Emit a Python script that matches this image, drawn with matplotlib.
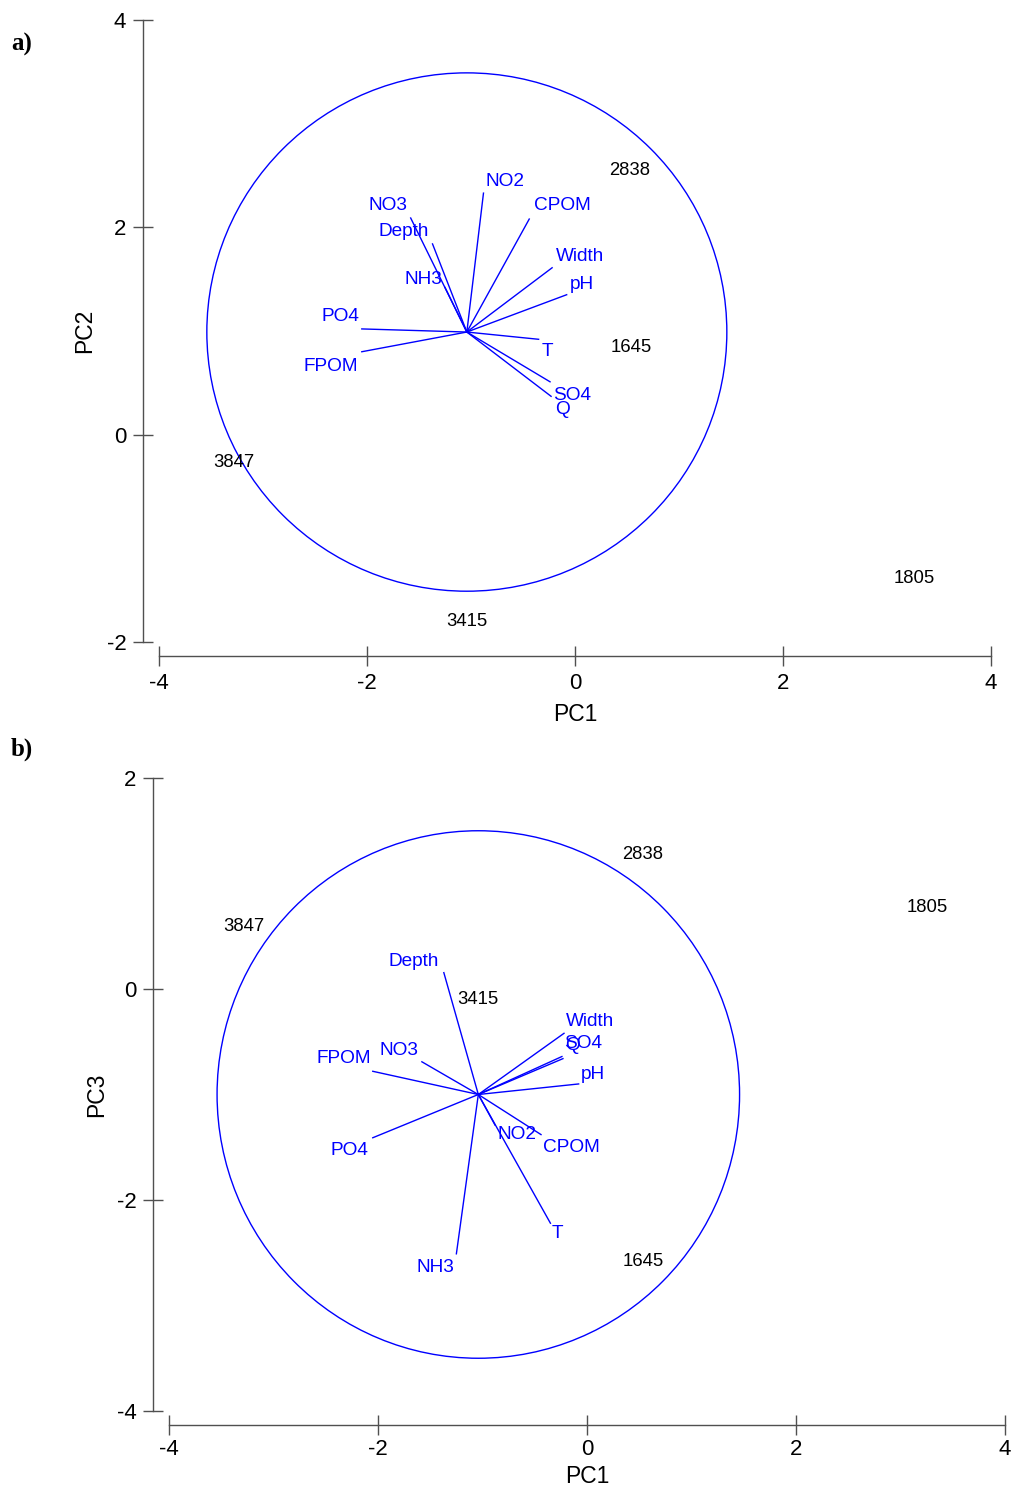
import matplotlib
matplotlib.use('agg')
import matplotlib.pyplot as plt
from matplotlib.patches import Circle
from matplotlib.transforms import offset_copy

plt.rcParams['font.family'] = ['Liberation Sans', 'DejaVu Sans']
plt.rcParams['axes.unicode_minus'] = False

# variables (vectors), endpoints in PC space
variables = ['NO2', 'CPOM', 'NO3', 'Depth', 'NH3', 'Width', 'pH', 'T', 'SO4', 'Q', 'PO4', 'FPOM']
vec_pc1 = [-0.88, -0.44, -1.58, -1.37, -1.25, -0.22, -0.08, -0.35, -0.24, -0.23, -2.05, -2.05]
vec_pc2 = [2.33, 2.08, 2.09, 1.84, 1.42, 1.61, 1.35, 0.92, 0.51, 0.37, 1.02, 0.80]
vec_pc3 = [-1.29, -1.38, -0.69, 0.155, -2.51, -0.42, -0.90, -2.22, -0.64, -0.66, -1.41, -0.78]

# label positions for the vectors
lab_a_x = [-0.67, -0.125, -1.80, -1.65, -1.46, 0.05, 0.07, -0.27, -0.03, -0.125, -2.26, -2.35]
lab_a_y = [2.46, 2.23, 2.23, 1.98, 1.52, 1.74, 1.47, 0.82, 0.40, 0.26, 1.16, 0.68]
lab_b_x = [-0.67, -0.15, -1.80, -1.66, -1.45, 0.03, 0.06, -0.28, -0.04, -0.14, -2.27, -2.33]
lab_b_y = [-1.36, -1.48, -0.56, 0.28, -2.62, -0.29, -0.79, -2.30, -0.50, -0.52, -1.51, -0.64]

# samples
samples = ['2838', '1645', '3847', '3415', '1805']
samp_pc1 = [0.53, 0.54, -3.28, -1.04, 3.26]
samp_pc2 = [2.57, 0.86, -0.25, -1.78, -1.37]
samp_pc3 = [1.29, -2.56, 0.61, -0.08, 0.79]

# circle of correlations
circ_pc1 = -1.04
circ_pc2 = 0.99
circ_pc3 = -1.00
circ_r = 2.5

W, H = 1013, 1490
fig = plt.figure(figsize=(W / 100, H / 100), dpi=100)

blue = '#0000ff'
spine_col = '#505050'


def make_panel(rect, vy, lx, ly, sy, cy, ylim, yticks, ylabel, ylab_x, tpad, lpad):
    ax = fig.add_axes(rect)
    ax.set_xlim(-4, 4)
    ax.set_ylim(*ylim)
    # nudge text down a bit so the glyphs sit centred on their points
    tr = offset_copy(ax.transData, fig=fig, y=-2, units='dots')
    ax.add_patch(Circle((circ_pc1, cy), circ_r, fill=False, ec=blue, lw=1))
    for i, v in enumerate(variables):
        ax.plot([circ_pc1, vec_pc1[i]], [cy, vy[i]], color=blue, lw=1)
        ax.text(lx[i], ly[i], v, color=blue, fontsize=13.7, ha='center', va='center',
                transform=tr)
    for i, s in enumerate(samples):
        ax.text(samp_pc1[i], sy[i], s, color='black', fontsize=13.3, ha='center',
                va='center', transform=tr)
    for side in ['top', 'right']:
        ax.spines[side].set_visible(False)
    ax.spines['left'].set_position(('outward', 11.5))
    ax.spines['bottom'].set_position(('outward', 10))
    ax.spines['left'].set_bounds(*ylim)
    ax.spines['bottom'].set_bounds(-4, 4)
    for side in ['left', 'bottom']:
        ax.spines[side].set_color(spine_col)
        ax.spines[side].set_linewidth(1)
    ax.set_xticks([-4, -2, 0, 2, 4])
    ax.set_yticks(yticks)
    ax.tick_params(direction='inout', length=14, width=1, color=spine_col,
                   labelsize=16, pad=5)
    ax.tick_params(axis='x', pad=tpad)
    ax.set_xlabel('PC1', fontsize=16.5, labelpad=lpad)
    ax.set_ylabel(ylabel, fontsize=16.5)
    ax.yaxis.set_label_coords(ylab_x, 0.5)
    ax.patch.set_visible(False)
    return ax


make_panel([159 / W, 1 - 642 / H, 832 / W, 622 / H], vec_pc2, lab_a_x, lab_a_y,
           samp_pc2, circ_pc2, (-2, 4), [-2, 0, 2, 4], 'PC2', -0.0757, 5, 7)
make_panel([169 / W, 1 - 1411 / H, 836 / W, 633 / H], vec_pc3, lab_b_x, lab_b_y,
           samp_pc3, circ_pc3, (-4, 2), [-4, -2, 0, 2], 'PC3', -0.073, 3.5, 3.5)

fig.text(22 / W, 1 - 44 / H, 'a)', family='Liberation Serif', fontweight='bold',
         fontsize=18, ha='center', va='center')
fig.text(22 / W, 1 - 749 / H, 'b)', family='Liberation Serif', fontweight='bold',
         fontsize=18, ha='center', va='center')

plt.savefig('out.png', dpi=100)
